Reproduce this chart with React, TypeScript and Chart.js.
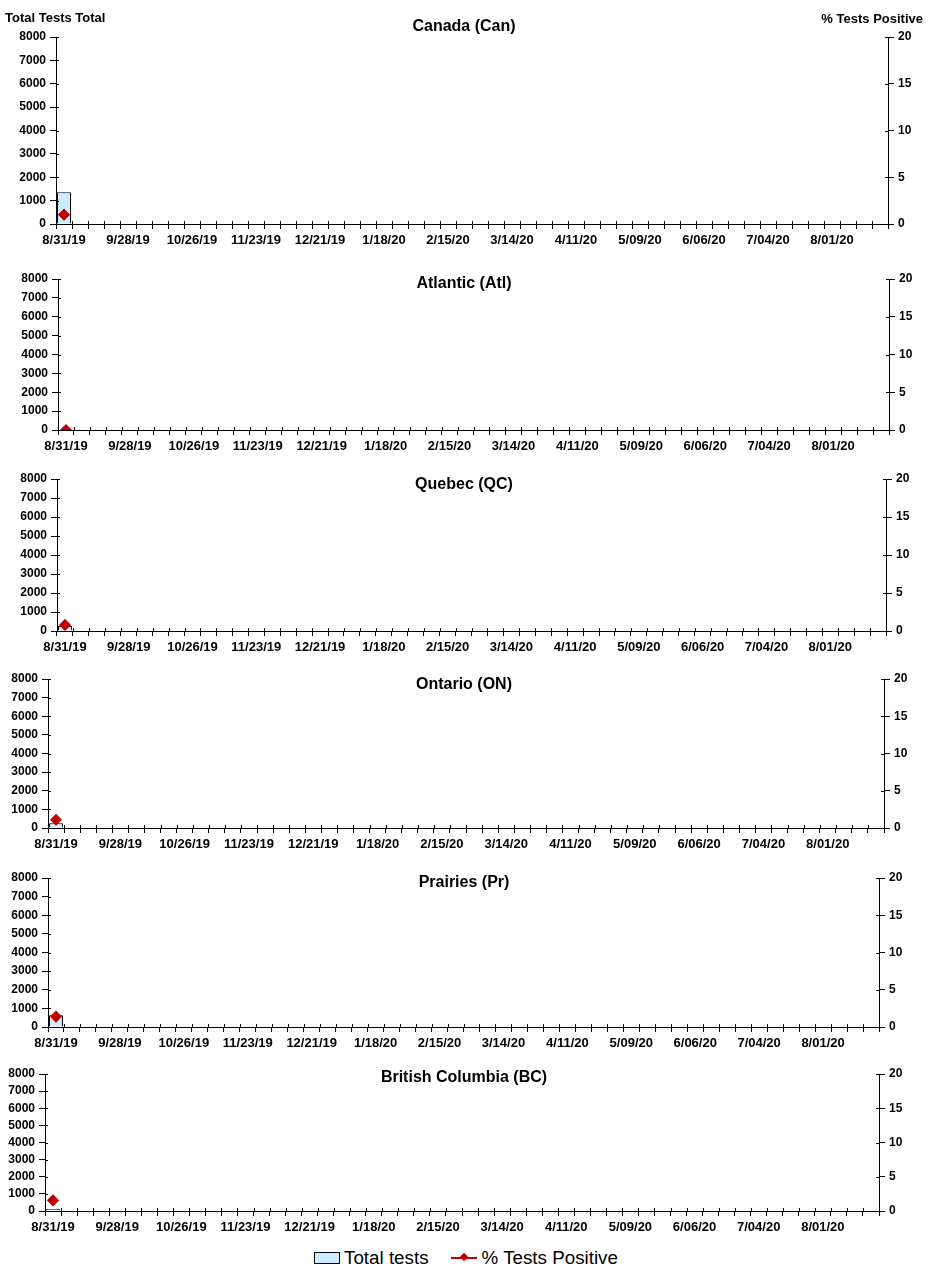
import React, { useEffect, useRef } from "react";
import { Chart, registerables } from "chart.js";

Chart.register(...registerables);

const weeks = [
  "8/31/19", "9/07/19", "9/14/19", "9/21/19", "9/28/19", "10/05/19", "10/12/19", "10/19/19",
  "10/26/19", "11/02/19", "11/09/19", "11/16/19", "11/23/19", "11/30/19", "12/07/19", "12/14/19",
  "12/21/19", "12/28/19", "1/04/20", "1/11/20", "1/18/20", "1/25/20", "2/01/20", "2/08/20",
  "2/15/20", "2/22/20", "2/29/20", "3/07/20", "3/14/20", "3/21/20", "3/28/20", "4/04/20",
  "4/11/20", "4/18/20", "4/25/20", "5/02/20", "5/09/20", "5/16/20", "5/23/20", "5/30/20",
  "6/06/20", "6/13/20", "6/20/20", "6/27/20", "7/04/20", "7/11/20", "7/18/20", "7/25/20",
  "8/01/20", "8/08/20", "8/15/20", "8/22/20",
];

// only every 4th week gets a label
const shownWeeks = [
  "8/31/19", "9/28/19", "10/26/19", "11/23/19", "12/21/19", "1/18/20", "2/15/20",
  "3/14/20", "4/11/20", "5/09/20", "6/06/20", "7/04/20", "8/01/20",
];

const testsMax = 8000;
const testsStep = 1000;
const pctMax = 20;
const pctStep = 5;

// weekly values (only the first week reported)
const canTotal = [1360];
const canPct = [1.0];
const atlTotal = [30];
const atlPct = [0];
const qcTotal = [260];
const qcPct = [0.8];
const onTotal = [250];
const onPct = [1.1];
const prTotal = [630];
const prPct = [1.4];
const bcTotal = [100];
const bcPct = [1.55];

const panels = [
  { title: "Canada (Can)", totals: canTotal, pct: canPct },
  { title: "Atlantic (Atl)", totals: atlTotal, pct: atlPct },
  { title: "Quebec (QC)", totals: qcTotal, pct: qcPct },
  { title: "Ontario (ON)", totals: onTotal, pct: onPct },
  { title: "Prairies (Pr)", totals: prTotal, pct: prPct },
  { title: "British Columbia (BC)", totals: bcTotal, pct: bcPct },
];

// canvas placement and plot edges in page pixels
const boxes = [
  { top: 0, height: 258, left: 56, right: 888, plotTop: 37, plotBottom: 224, titleDy: -10 },
  { top: 258, height: 200, left: 58, right: 889, plotTop: 279, plotBottom: 430, titleDy: 5 },
  { top: 458, height: 200, left: 57, right: 886, plotTop: 479, plotBottom: 631, titleDy: 6 },
  { top: 658, height: 200, left: 48, right: 884, plotTop: 679, plotBottom: 828, titleDy: 6 },
  { top: 858, height: 195, left: 48, right: 879, plotTop: 878, plotBottom: 1027, titleDy: 5 },
  { top: 1053, height: 190, left: 45, right: 879, plotTop: 1074, plotBottom: 1211, titleDy: 4 },
];

const W = 928;
const FONT = "'Liberation Sans', Arial, sans-serif";
const RED = "#C00000";
const BAR_FILL = "#CCECFF";

const tickFont = { family: FONT, size: 12, weight: "bold" as const };
const dateFont = { family: FONT, size: 13, weight: "bold" as const };

// short marks drawn inside the plot so ticks cross the axes like the original
const innerTicks = {
  id: "innerTicks",
  afterDraw(chart: any) {
    const { ctx, chartArea, scales } = chart;
    ctx.save();
    ctx.strokeStyle = "#000";
    ctx.lineWidth = 1;
    ctx.beginPath();
    const n = weeks.length;
    const step = (chartArea.right - chartArea.left) / n;
    for (let i = 0; i <= n; i++) {
      const x = Math.round(chartArea.left + i * step) + 0.5;
      ctx.moveTo(x, chartArea.bottom - 3);
      ctx.lineTo(x, chartArea.bottom);
    }
    scales.y.ticks.forEach((t: any) => {
      const y = Math.round(scales.y.getPixelForValue(t.value)) + 0.5;
      ctx.moveTo(chartArea.left, y);
      ctx.lineTo(chartArea.left + 3, y);
    });
    scales.y1.ticks.forEach((t: any) => {
      const y = Math.round(scales.y1.getPixelForValue(t.value)) + 0.5;
      ctx.moveTo(chartArea.right - 3, y);
      ctx.lineTo(chartArea.right, y);
    });
    ctx.stroke();
    ctx.restore();
  },
};

const Panel = ({ idx }: { idx: number }) => {
  const chartRef = useRef<HTMLCanvasElement | null>(null);
  const chartInstance = useRef<Chart | null>(null);
  const p = panels[idx];
  const box = boxes[idx];

  useEffect(() => {
    if (chartInstance.current) chartInstance.current.destroy();
    const ctx = chartRef.current?.getContext("2d");
    if (!ctx) return;

    const titlePlugin = {
      id: "panelTitle",
      afterDraw(chart: any) {
        const c = chart.ctx;
        c.save();
        c.fillStyle = "#000";
        c.textBaseline = "middle";
        c.textAlign = "center";
        c.font = `bold 16px ${FONT}`;
        c.fillText(p.title, chart.width / 2, chart.chartArea.top + box.titleDy);
        if (idx === 0) {
          c.font = `bold 13px ${FONT}`;
          c.textAlign = "left";
          c.fillText("Total Tests Total", 5, 18);
          c.textAlign = "right";
          c.fillText("% Tests Positive", 923, 19);
        }
        c.restore();
      },
    };

    chartInstance.current = new Chart(ctx, {
      data: {
        labels: weeks,
        datasets: [
          {
            type: "line",
            label: "% Tests Positive",
            data: p.pct,
            yAxisID: "y1",
            borderColor: RED,
            backgroundColor: RED,
            borderWidth: 1.5,
            pointStyle: "rectRot",
            pointRadius: 5,
            pointBackgroundColor: RED,
            pointBorderColor: RED,
            order: 0,
          },
          {
            type: "bar",
            label: "Total tests",
            data: p.totals,
            yAxisID: "y",
            backgroundColor: BAR_FILL,
            borderColor: "#000",
            borderWidth: 1,
            categoryPercentage: 1,
            barPercentage: 0.875,
            order: 1,
          },
        ],
      } as any,
      options: {
        responsive: false,
        animation: false,
        layout: { padding: { top: box.plotTop - box.top, left: 0, right: 0, bottom: 0 } },
        plugins: { legend: { display: false }, tooltip: { enabled: false } },
        scales: {
          x: {
            type: "category",
            offset: true,
            grid: { offset: true, drawOnChartArea: false, tickLength: 5, color: "#000" },
            border: { color: "#000", width: 1 },
            ticks: {
              autoSkip: false,
              maxRotation: 0,
              minRotation: 0,
              padding: 4,
              color: "#000",
              font: dateFont,
              callback: (_v: any, i: number) => (shownWeeks.includes(weeks[i]) ? weeks[i] : ""),
            },
            afterFit: (s: any) => {
              s.height = box.top + box.height - box.plotBottom;
            },
          },
          y: {
            position: "left",
            min: 0,
            max: testsMax,
            ticks: {
              stepSize: testsStep,
              autoSkip: false,
              color: "#000",
              font: tickFont,
              padding: 4,
              callback: (v: any) => String(v),
            },
            grid: { drawOnChartArea: false, tickLength: 6, color: "#000" },
            border: { color: "#000", width: 1 },
            afterFit: (s: any) => {
              s.width = box.left;
            },
          },
          y1: {
            position: "right",
            min: 0,
            max: pctMax,
            ticks: {
              stepSize: pctStep,
              autoSkip: false,
              color: "#000",
              font: tickFont,
              padding: 4,
              callback: (v: any) => String(v),
            },
            grid: { drawOnChartArea: false, tickLength: 6, color: "#000" },
            border: { color: "#000", width: 1 },
            afterFit: (s: any) => {
              s.width = W - box.right;
            },
          },
        },
      } as any,
      plugins: [titlePlugin, innerTicks],
    });

    return () => {
      if (chartInstance.current) chartInstance.current.destroy();
      chartInstance.current = null;
    };
  }, []);

  return (
    <div style={{ position: "absolute", left: 0, top: box.top, width: W, height: box.height }}>
      <canvas ref={chartRef} width={W} height={box.height}></canvas>
    </div>
  );
};

const App = () => {
  return (
    <div style={{ position: "absolute", left: 0, top: 0, width: W, height: 1281, background: "#fff" }}>
      {panels.map((_p, i) => (
        <Panel key={i} idx={i} />
      ))}
      <div
        style={{
          position: "absolute",
          left: 314,
          top: 1247,
          height: 22,
          display: "flex",
          alignItems: "center",
          fontFamily: FONT,
          fontSize: 18.8,
          color: "#000",
          whiteSpace: "nowrap",
        }}
      >
        <span
          style={{
            display: "inline-block",
            width: 24,
            height: 10,
            border: "1px solid #000",
            background: BAR_FILL,
            marginRight: 4,
          }}
        ></span>
        <span>Total tests</span>
        <span
          style={{
            position: "relative",
            display: "inline-block",
            width: 26,
            height: 2,
            background: RED,
            marginLeft: 22,
            marginRight: 5,
          }}
        >
          <span
            style={{
              position: "absolute",
              left: 10,
              top: -3,
              width: 6,
              height: 6,
              background: RED,
              transform: "rotate(45deg)",
            }}
          ></span>
        </span>
        <span>% Tests Positive</span>
      </div>
    </div>
  );
};

export default App;
